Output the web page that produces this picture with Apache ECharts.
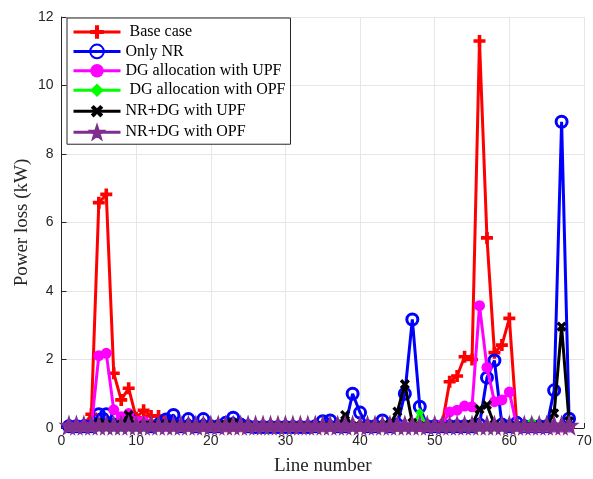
<!DOCTYPE html>
<html>
<head>
<meta charset="utf-8">
<script src="https://cdn.jsdelivr.net/npm/echarts@6/dist/echarts.min.js"></script>
<style>html,body{margin:0;padding:0;background:#fff;}#c{width:593px;height:479px;}</style>
</head>
<body>
<div id="c"></div>
<script>
const lineNumbers = [1,2,3,4,5,6,7,8,9,10,11,12,13,14,15,16,17,18,19,20,21,22,23,24,25,26,27,28,29,30,31,32,33,34,35,36,37,38,39,40,41,42,43,44,45,46,47,48,49,50,51,52,53,54,55,56,57,58,59,60,61,62,63,64,65,66,67,68];
const xTicks = [0,10,20,30,40,50,60,70];
const yTicks = [0,2,4,6,8,10,12];
const legendLabels = [' Base case','Only NR','DG allocation with UPF',' DG allocation with OPF','NR+DG with UPF','NR+DG with OPF'];

const baseCase = [0.05,0.05,0.08,0.4,6.58,6.82,1.6,0.82,1.16,0.3,0.52,0.35,0.35,0.2,0.15,0.08,0.06,0.06,0.06,0.05,0.05,0.05,0.06,0.05,0.05,0.04,0.04,0.04,0.04,0.04,0.04,0.04,0.04,0.05,0.05,0.06,0.05,0.05,0.08,0.06,0.05,0.05,0.05,0.05,0.06,0.08,0.08,0.06,0.05,0.05,0.1,1.35,1.52,2.08,2.0,11.3,5.55,2.2,2.42,3.2,0.1,0.05,0.05,0.05,0.05,0.05,0.05,0.05];
const onlyNR = [0.05,0.05,0.05,0.05,0.4,0.4,0.1,0.1,0.3,0.1,0.1,0.05,0.1,0.25,0.38,0.05,0.26,0.05,0.26,0.05,0.05,0.15,0.3,0.1,0.05,0.03,0.03,0.03,0.03,0.03,0.03,0.03,0.03,0.05,0.2,0.22,0.05,0.05,1.0,0.45,0.05,0.05,0.22,0.05,0.1,1.0,3.17,0.62,0.05,0.05,0.05,0.05,0.05,0.05,0.05,0.1,1.47,1.97,0.1,0.05,0.15,0.05,0.05,0.05,0.05,1.1,8.94,0.27];
const dgUPF = [0.05,0.05,0.05,0.05,2.11,2.18,0.53,0.33,0.42,0.2,0.2,0.1,0.05,0.05,0.05,0.05,0.05,0.05,0.05,0.05,0.05,0.05,0.05,0.05,0.05,0.05,0.05,0.05,0.05,0.05,0.05,0.05,0.05,0.05,0.05,0.05,0.05,0.05,0.05,0.05,0.05,0.05,0.05,0.05,0.05,0.05,0.05,0.05,0.05,0.05,0.1,0.47,0.52,0.64,0.62,3.57,1.77,0.77,0.82,1.05,0.05,0.03,0.03,0.03,0.03,0.03,0.03,0.03];
const dgOPF = [0.02,0.02,0.02,0.02,0.02,0.02,0.02,0.02,0.02,0.02,0.02,0.02,0.02,0.02,0.02,0.02,0.02,0.02,0.02,0.02,0.02,0.02,0.02,0.02,0.02,0.02,0.02,0.02,0.02,0.02,0.02,0.02,0.02,0.02,0.02,0.02,0.02,0.02,0.02,0.02,0.02,0.02,0.02,0.02,0.02,0.02,0.02,0.45,0.02,0.02,0.02,0.02,0.02,0.02,0.02,0.02,0.02,0.02,0.02,0.02,0.02,0.02,0.2,0.02,0.02,0.02,0.02,0.02];
const nrdgUPF = [0.02,0.02,0.02,0.02,0.15,0.1,0.05,0.1,0.38,0.0,0.08,0.08,0.06,0.1,0.06,0.05,0.05,0.05,0.05,0.05,0.05,0.1,0.15,0.05,0.04,0.04,0.04,0.04,0.04,0.04,0.04,0.04,0.04,0.04,0.05,0.05,0.05,0.38,0.05,0.05,0.04,0.04,0.04,0.1,0.48,1.28,0.15,0.05,0.04,0.04,0.04,0.04,0.04,0.04,0.1,0.55,0.67,0.1,0.0,0.05,0.04,0.04,0.04,0.04,0.05,0.43,2.96,0.2];
const nrdgOPF = [0.07,0.07,0.07,0.07,0.07,0.07,0.07,0.07,0.07,0.07,0.07,0.07,0.07,0.07,0.07,0.07,0.07,0.07,0.07,0.07,0.07,0.07,0.07,0.07,0.07,0.07,0.07,0.07,0.07,0.07,0.07,0.07,0.07,0.07,0.07,0.07,0.07,0.07,0.07,0.07,0.07,0.07,0.07,0.07,0.07,0.07,0.07,0.07,0.07,0.07,0.07,0.07,0.07,0.07,0.07,0.07,0.07,0.07,0.07,0.07,0.07,0.07,0.07,0.07,0.07,0.07,0.07,0.07];

const plusPath = 'path://M3.5,0h3v3.5h3.5v3h-3.5v3.5h-3v-3.5h-3.5v-3h3.5z';
const starPath = 'path://M0,-10L2.35,-3.24L9.51,-3.09L3.8,1.24L5.88,8.09L0,4L-5.88,8.09L-3.8,1.24L-9.51,-3.09L-2.35,-3.24Z';

function pairs(vals){ return lineNumbers.map((n,i)=>[n, vals[i]]); }

const chart = echarts.init(document.getElementById('c'), null, {renderer:'canvas'});
const serif = 'Liberation Serif, Times New Roman, serif';
const sans = 'Liberation Sans, Arial, sans-serif';

const defs = [
  {data: baseCase, color:'#FF0000', symbol: plusPath, size: 12, fill:'#FF0000', bw:0},
  {data: onlyNR, color:'#0000FF', symbol: 'circle', size: 11, fill:'rgba(0,0,0,0)', bw:3},
  {data: dgUPF, color:'#FF00FF', symbol: 'circle', size: 11, fill:'#FF00FF', bw:0},
  {data: dgOPF, color:'#00FF00', symbol: 'diamond', size: 9, fill:'#00FF00', bw:0},
  {data: nrdgUPF, color:'#000000', symbol: plusPath, size: 11, fill:'#000000', bw:0, rot:45},
  {data: nrdgOPF, color:'#7E2F8E', symbol: starPath, size: 14, fill:'#7E2F8E', bw:2.5}
];

const series = defs.map((d,i)=>({
  name: legendLabels[i],
  type: 'line',
  data: pairs(d.data),
  symbol: d.symbol,
  symbolSize: d.size,
  symbolRotate: d.rot || 0,
  showAllSymbol: true,
  clip: false,
  animation: false,
  z: 2 + i,
  lineStyle: {color: d.color, width: 3},
  itemStyle: {color: d.fill, borderColor: d.color, borderWidth: d.bw},
  emphasis: {disabled: true}
}));

chart.setOption({
  backgroundColor: '#ffffff',
  animation: false,
  grid: {left: 61.5, right: 9, top: 17, bottom: 51, containLabel: false, outerBoundsMode: 'none'},
  legend: {
    left: 67, top: 18, orient: 'vertical',
    itemWidth: 47, itemHeight: 17, itemGap: 3.4,
    padding: [6, 5, 4, 5],
    backgroundColor: '#ffffff', borderColor: '#262626', borderWidth: 1,
    lineStyle: {width: 3},
    textStyle: {fontFamily: serif, fontSize: 16, color: '#000'},
    data: legendLabels
  },
  xAxis: {
    type: 'value', min: xTicks[0], max: xTicks[xTicks.length-1], interval: 10,
    name: 'Line number', nameLocation: 'middle', nameGap: 29, nameMoveOverlap: false,
    nameTextStyle: {fontFamily: serif, fontSize: 19, color: '#262626'},
    axisLine: {show: true, lineStyle: {color: '#262626', width: 1}},
    axisTick: {show: true, inside: true, length: 5, lineStyle: {color: '#262626'}},
    axisLabel: {fontFamily: sans, fontSize: 14, color: '#262626', margin: 6},
    splitLine: {show: true, lineStyle: {color: '#e6e6e6', width: 1}}
  },
  yAxis: {
    type: 'value', min: yTicks[0], max: yTicks[yTicks.length-1], interval: 2,
    name: 'Power loss (kW)', nameLocation: 'middle', nameGap: 30, nameMoveOverlap: false,
    nameTextStyle: {fontFamily: serif, fontSize: 19, color: '#262626'},
    axisLine: {show: true, lineStyle: {color: '#262626', width: 1}},
    axisTick: {show: true, inside: true, length: 5, lineStyle: {color: '#262626'}},
    axisLabel: {fontFamily: sans, fontSize: 14, color: '#262626', margin: 8},
    splitLine: {show: true, lineStyle: {color: '#e6e6e6', width: 1}}
  },
  series: series
});
</script>
</body>
</html>
